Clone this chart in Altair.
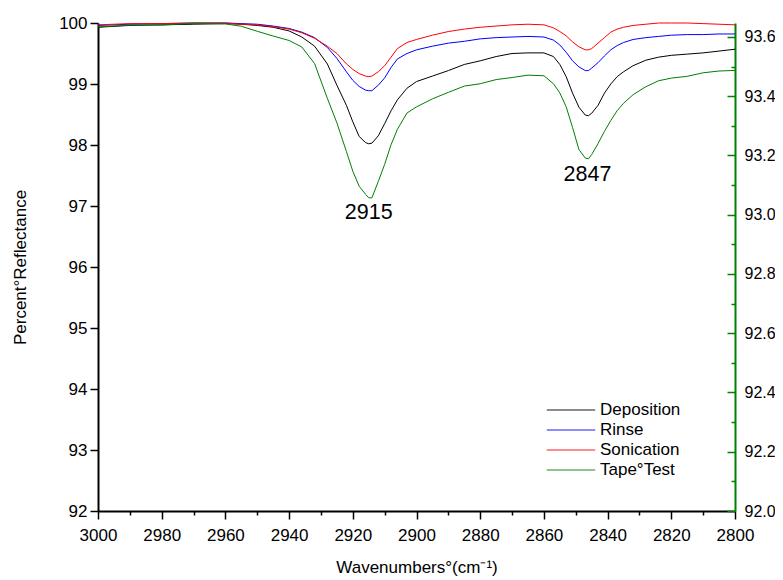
import altair as alt
import pandas as pd

FONT = "Liberation Sans"

wavenumbers = [3000, 2990, 2980, 2970, 2960, 2955, 2950, 2945, 2940, 2936,
               2932, 2928, 2925, 2922, 2920, 2918, 2916, 2915, 2914, 2912,
               2910, 2908, 2906, 2903, 2900, 2895, 2890, 2885, 2880, 2875,
               2870, 2865, 2860, 2857, 2855, 2853, 2851, 2849, 2847, 2846,
               2845, 2843, 2841, 2839, 2837, 2835, 2832, 2828, 2824, 2820,
               2815, 2810, 2805, 2800]

deposition = [99.93, 99.96, 99.97, 99.98, 99.99, 99.98, 99.96, 99.93, 99.87, 99.77,
              99.62, 99.33, 98.98, 98.65, 98.38, 98.14, 98.04, 98.02, 98.03, 98.15,
              98.35, 98.56, 98.74, 98.93, 99.04, 99.13, 99.22, 99.32, 99.38, 99.45,
              99.50, 99.51, 99.51, 99.45, 99.32, 99.12, 98.85, 98.62, 98.49, 98.48,
              98.52, 98.65, 98.85, 99.00, 99.12, 99.20, 99.30, 99.39, 99.44, 99.47,
              99.49, 99.51, 99.54, 99.57]

rinse = [99.96, 99.98, 99.99, 100.0, 100.0, 99.99, 99.98, 99.95, 99.91, 99.85,
         99.76, 99.60, 99.42, 99.20, 99.06, 98.96, 98.90, 98.89, 98.89, 98.98,
         99.10, 99.27, 99.41, 99.50, 99.56, 99.62, 99.67, 99.70, 99.74, 99.76,
         99.77, 99.78, 99.77, 99.72, 99.64, 99.52, 99.38, 99.28, 99.22, 99.22,
         99.26, 99.35, 99.46, 99.56, 99.63, 99.68, 99.73, 99.76, 99.78, 99.80,
         99.81, 99.81, 99.82, 99.82]

sonication = [99.97, 99.99, 99.99, 100.0, 100.0, 99.98, 99.97, 99.94, 99.90, 99.84,
              99.75, 99.62, 99.50, 99.33, 99.24, 99.17, 99.13, 99.12, 99.13, 99.20,
              99.30, 99.44, 99.58, 99.68, 99.73, 99.80, 99.86, 99.90, 99.93, 99.95,
              99.97, 99.98, 99.97, 99.92, 99.86, 99.79, 99.69, 99.61, 99.56, 99.56,
              99.58, 99.67, 99.76, 99.85, 99.90, 99.93, 99.96, 99.98, 100.0, 100.0,
              100.0, 99.99, 99.98, 99.97]

# Tape Test is read on the right-hand (green) axis
tape_test = [93.634, 93.640, 93.640, 93.646, 93.644, 93.636, 93.619, 93.603, 93.588, 93.566,
             93.510, 93.393, 93.310, 93.213, 93.147, 93.096, 93.069, 93.057, 93.057, 93.112,
             93.170, 93.236, 93.288, 93.343, 93.364, 93.391, 93.413, 93.434, 93.442, 93.456,
             93.463, 93.471, 93.469, 93.442, 93.411, 93.364, 93.294, 93.220, 93.191, 93.189,
             93.203, 93.240, 93.281, 93.318, 93.351, 93.376, 93.405, 93.432, 93.452, 93.461,
             93.467, 93.479, 93.485, 93.487]

series_names = ["Deposition", "Rinse", "Sonication", "Tape°Test"]
series_colors = ["#000000", "#0000ff", "#ff0000", "#008000"]

x_ticks = [3000, 2990, 2980, 2970, 2960, 2950, 2940, 2930, 2920, 2910, 2900,
           2890, 2880, 2870, 2860, 2850, 2840, 2830, 2820, 2810, 2800]
left_ticks = [92, 92.5, 93, 93.5, 94, 94.5, 95, 95.5, 96, 96.5, 97, 97.5,
              98, 98.5, 99, 99.5, 100]
right_ticks = [92.0, 92.1, 92.2, 92.3, 92.4, 92.5, 92.6, 92.7, 92.8, 92.9,
               93.0, 93.1, 93.2, 93.3, 93.4, 93.5, 93.6]

peak_labels = ["2915", "2847"]
peak_x = [2915.0, 2846.3]
peak_y = [96.79, 97.415]

left_df = pd.DataFrame({
    "wn": wavenumbers * 3,
    "value": deposition + rinse + sonication,
    "series": [series_names[0]] * len(wavenumbers)
              + [series_names[1]] * len(wavenumbers)
              + [series_names[2]] * len(wavenumbers),
})
right_df = pd.DataFrame({
    "wn": wavenumbers,
    "value": tape_test,
    "series": [series_names[3]] * len(wavenumbers),
})
peak_df = pd.DataFrame({"wn": peak_x, "value": peak_y, "label": peak_labels})

x_enc = alt.X(
    "wn:Q",
    scale=alt.Scale(domain=[2800, 3000], reverse=True, nice=False, zero=False),
    axis=alt.Axis(
        values=x_ticks, format="d",
        labelExpr="datum.value % 20 == 0 ? datum.label : ''",
        tickSize=alt.ExprRef("datum.value % 20 == 0 ? 8 : 4"),
        tickWidth=1.5, tickColor="black", domainColor="black", domainWidth=2,
        labelPadding=8, labelFont=FONT, labelFontSize=17, labelColor="black",
        labelFlush=False, labelOverlap=False, grid=False,
        title="Wavenumbers°(cm⁻¹)", titleFont=FONT, titleFontSize=17,
        titleFontWeight="normal", titleColor="black",
        titleX=318.5, titleY=61, titleBaseline="alphabetic",
    ),
)

y_left = alt.Y(
    "value:Q",
    scale=alt.Scale(domain=[92, 100], nice=False, zero=False),
    axis=alt.Axis(
        orient="left", values=left_ticks, format="d",
        labelExpr="datum.value % 1 == 0 ? datum.label : ''",
        tickSize=alt.ExprRef("datum.value % 1 == 0 ? 8 : 4"),
        tickWidth=1.5, tickColor="black", domainColor="black", domainWidth=2,
        labelPadding=3, labelFont=FONT, labelFontSize=17, labelColor="black",
        labelFlush=False, labelOverlap=False, grid=False,
        title="Percent°Reflectance", titleFont=FONT, titleFontSize=17,
        titleFontWeight="normal", titleColor="black",
        titleX=-73, titleY=244, titleBaseline="alphabetic", titleAngle=270,
    ),
)

y_right = alt.Y(
    "value:Q",
    scale=alt.Scale(domain=[92, 93.647], nice=False, zero=False),
    axis=alt.Axis(
        orient="right", values=right_ticks,
        labelExpr="round(datum.value * 10) % 2 == 0 ? format(datum.value, '.1f') : ''",
        tickSize=alt.ExprRef("round(datum.value * 10) % 2 == 0 ? -8 : -4"),
        tickWidth=1.5, tickColor="#008000", domainColor="#008000", domainWidth=2,
        labelPadding=17, labelFont=FONT, labelFontSize=16, labelColor="black",
        labelFlush=False, labelOverlap=False, grid=False, title=None,
    ),
)

legend = alt.Legend(
    title=None, orient="none", legendX=461, legendY=375, padding=0,
    symbolType="M-2.2,0H2.2", symbolSize=484, symbolStrokeWidth=1.5,
    symbolOpacity=0.6, labelOffset=17, rowPadding=0,
    labelFont=FONT, labelFontSize=17, labelColor="black",
)

color_enc = alt.Color(
    "series:N",
    scale=alt.Scale(domain=series_names, range=series_colors),
    legend=legend,
)

left_lines = alt.Chart(left_df).mark_line(strokeWidth=1).encode(
    x=x_enc, y=y_left, color=color_enc, detail="series:N"
)
peaks = alt.Chart(peak_df).mark_text(
    font=FONT, fontSize=21.5, align="center", baseline="alphabetic", color="black"
).encode(x=x_enc, y=y_left, text="label:N")

right_line = alt.Chart(right_df).mark_line(strokeWidth=1).encode(
    x=x_enc, y=y_right, color=color_enc
)

chart = (
    alt.layer(alt.layer(left_lines, peaks), right_line)
    .resolve_scale(y="independent")
    .properties(
        width=637, height=488,
        padding={"left": 90, "top": 15, "right": 40, "bottom": 69},
        autosize=alt.AutoSizeParams(type="none"),
        background="white",
    )
    .configure_view(stroke=None)
)

chart.save("out.html", embed_options={"renderer": "svg", "actions": False})
